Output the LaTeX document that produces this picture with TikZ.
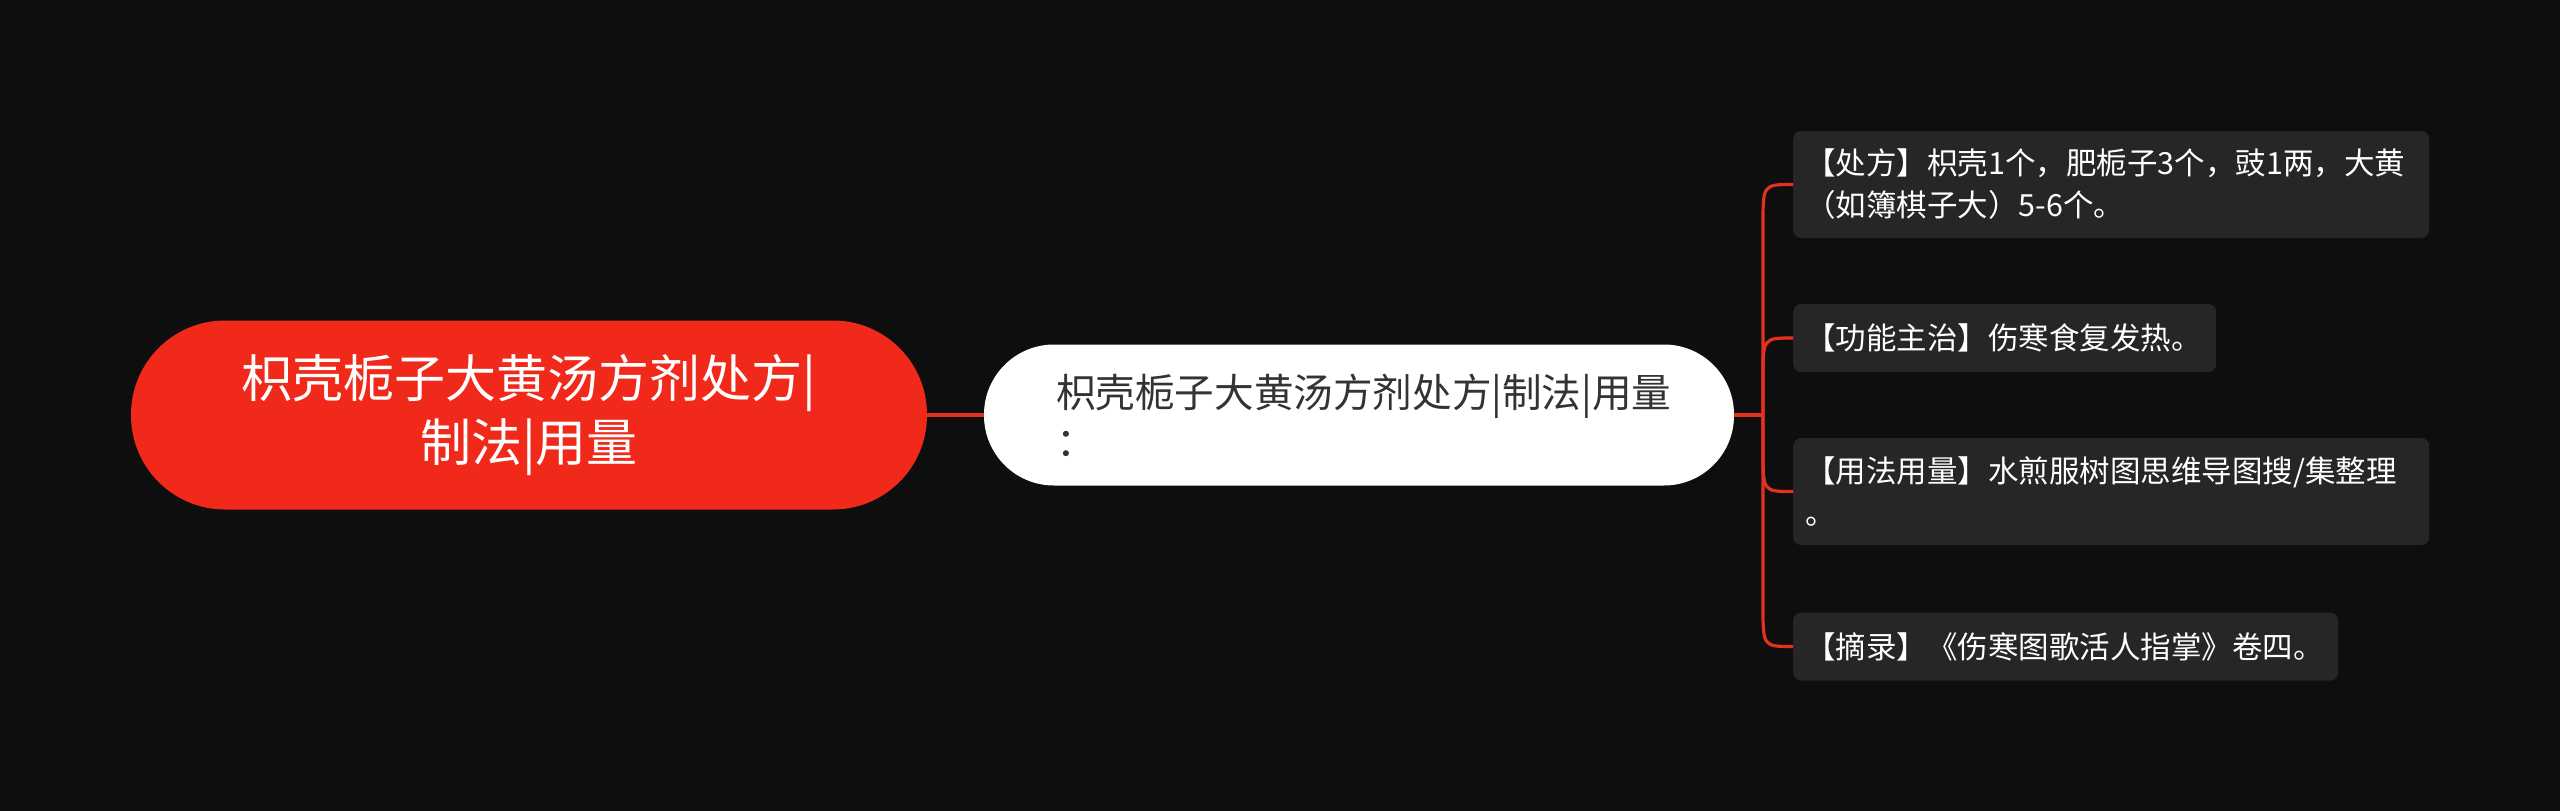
\documentclass[tikz,border=0pt]{standalone}
\usepackage{fontspec}
\setmainfont{Noto Sans CJK SC}
\definecolor{bgcol}{HTML}{0E0E0E}
\definecolor{rootred}{HTML}{F0291A}
\definecolor{connred}{HTML}{E3301F}
\definecolor{leafgray}{HTML}{262626}
\definecolor{midtext}{HTML}{333333}
\begin{document}
\begin{tikzpicture}[x=1pt,y=-1pt,
  rootbox/.style={fill=rootred, rounded corners=94pt, minimum width=796pt, minimum height=189pt,
    text=white, font=\fontsize{51}{64}\selectfont, align=center, inner sep=0pt},
  midbox/.style={fill=white, rounded corners=70pt, minimum width=750pt, minimum height=141pt,
    text=midtext, font=\fontsize{39.6}{49}\selectfont, align=left, text width=606pt,
    inner xsep=72pt, inner ysep=0pt},
  leafbox/.style={fill=leafgray, rounded corners=8pt, text=white, anchor=west,
    font=\fontsize{30.5}{42}\selectfont, align=left, inner xsep=12pt, inner ysep=0pt},
  conn/.style={draw=connred, line width=3.2pt}
]
\fill[bgcol] (0,0) rectangle (2560,811);
\useasboundingbox (0,0) rectangle (2560,811);

\node[rootbox] (root) at (529,415) {枳壳栀子大黄汤方剂处方|\\制法|用量};
\node[midbox] (mid) at (1359,415) {枳壳栀子大黄汤方剂处方|制法|用量\\：};

\node[leafbox, minimum height=107pt, text width=612pt] (l1) at (1793,184.5)
  {【处方】枳壳1个，肥栀子3个，豉1两，大黄\\（如簿棋子大）5-6个。};
\node[leafbox, minimum height=68pt, text width=399pt] (l2) at (1793,338)
  {【功能主治】伤寒食复发热。};
\node[leafbox, minimum height=107pt, text width=612pt] (l3) at (1793,491.5)
  {【用法用量】水煎服树图思维导图搜/集整理\\。};
\node[leafbox, minimum height=68pt, text width=521pt] (l4) at (1793,646.5)
  {【摘录】《伤寒图歌活人指掌》卷四。};

\coordinate (hub) at (1763,415);
\draw[conn] (root.east) -- (mid.west);
\draw[conn] (mid.east) -- (hub);
\draw[conn] (hub) -- (1763,224.5) .. controls (1763,184.5) .. (l1.west);
\draw[conn] (hub) -- (1763,378) .. controls (1763,338) .. (l2.west);
\draw[conn] (hub) -- (1763,451.5) .. controls (1763,491.5) .. (l3.west);
\draw[conn] (hub) -- (1763,606.5) .. controls (1763,646.5) .. (l4.west);
\end{tikzpicture}
\end{document}
